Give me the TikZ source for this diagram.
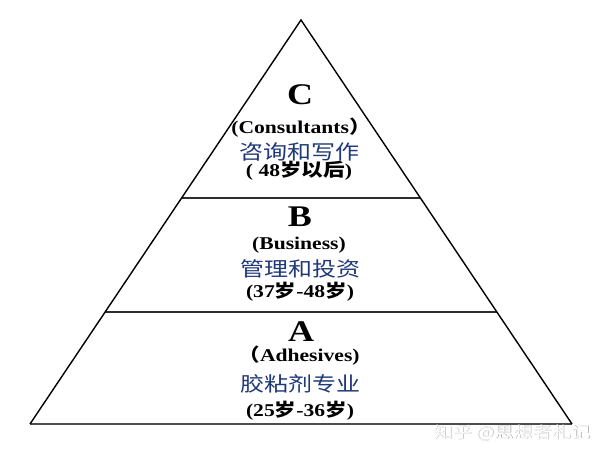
\documentclass[tikz,border=0pt]{standalone}
\usepackage{fontspec}
\setmainfont{Liberation Serif}
\newfontfamily\cjk{Noto Sans CJK SC}
\usetikzlibrary{calc}
\definecolor{navy}{RGB}{31,56,120}
\definecolor{rule}{RGB}{45,45,45}
\tikzset{
  edge/.style={line width=1.4pt, black},
  divider/.style={line width=2pt, rule},
  basestroke/.style={line width=2.6pt, rule!85!white},
  txt/.style={inner sep=0pt},
  bigletter/.style={txt, anchor=base, font=\bfseries\fontsize{30}{30}\selectfont},
  eng/.style={txt, anchor=base, font=\bfseries\fontsize{18}{18}\selectfont},
  zh/.style={txt, anchor=center, text=navy, font=\cjk\fontsize{20}{20}\selectfont},
  age/.style={txt, anchor=base, font=\bfseries\fontsize{18}{18}\selectfont},
  wmtext/.style={txt, font=\cjk\fontsize{16}{16}\selectfont},
}
\newcommand{\hstretch}[1]{\scalebox{1.2}[1]{#1}}
\newcommand{\zb}[1]{{\cjk\bfseries #1}}
\begin{document}
\begin{tikzpicture}[x=1pt,y=1pt]
\useasboundingbox (0,0) rectangle (600,457);
\fill[white] (0,0) rectangle (600,457);
\coordinate (apex) at (301,437);
\coordinate (left) at (30,33);
\coordinate (right) at (572,33);
\coordinate (l1) at ($(apex)!0.4406!(left)$);
\coordinate (r1) at ($(apex)!0.4406!(right)$);
\coordinate (l2) at ($(apex)!0.7228!(left)$);
\coordinate (r2) at ($(apex)!0.7228!(right)$);
\draw[divider] (l1) -- (r1);
\draw[divider] (l2) -- (r2);
\draw[basestroke] (left) -- (right);
\draw[edge, line join=miter] (left) -- (apex) -- (right);
% C
\node[bigletter] (c) at (300,352) {\hstretch{C}};
\node[eng] (ce) at (301,323) {\hstretch{(Consultants\zb{）}}};
\node[zh] (cz) at (299,305) {\hstretch{咨询和写作}};
\node[age] (ca) at (299,280) {\hstretch{( 48\zb{岁以后})}};
% B
\node[bigletter] (b) at (300,230) {\hstretch{B}};
\node[eng] (be) at (299,207) {\hstretch{(Business)}};
\node[zh] (bz) at (300,188) {\hstretch{管理和投资}};
\node[age] (ba) at (300,159) {\hstretch{(37\zb{岁}-48\zb{岁})}};
% A
\node[bigletter] (a) at (301,115) {\hstretch{A}};
\node[eng] (ae) at (299,95) {\hstretch{\zb{（}Adhesives)}};
\node[zh] (az) at (300,73) {\hstretch{胶粘剂专业}};
\node[age] (aa) at (300,40) {\hstretch{(25\zb{岁}-36\zb{岁})}};
% watermark
\node[wmtext, text=gray!70] (wms) at (512.6,23.4) {\hstretch{知乎 @思想者札记}};
\node[wmtext, text=white] (wm) at (512,24) {\hstretch{知乎 @思想者札记}};
\end{tikzpicture}
\end{document}
